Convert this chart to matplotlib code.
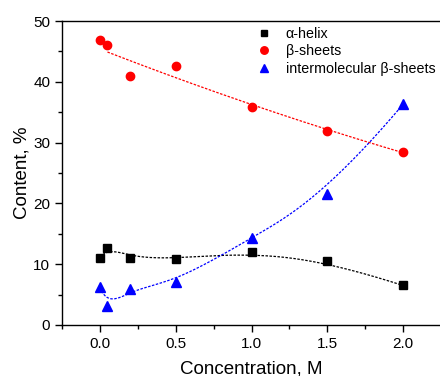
import matplotlib
matplotlib.use("Agg")
import matplotlib.pyplot as plt
import numpy as np
from matplotlib.ticker import MultipleLocator

plt.rcParams['font.family'] = ['Liberation Sans', 'DejaVu Sans']

conc = np.array([0.0, 0.05, 0.2, 0.5, 1.0, 1.5, 2.0])
helix = np.array([11.1, 12.7, 11.1, 10.9, 12.0, 10.5, 6.5])
sheets = np.array([46.8, 46.0, 41.0, 42.6, 35.8, 31.9, 28.5])
inter = np.array([6.2, 3.1, 5.9, 7.1, 14.3, 21.6, 36.3])


def bspline(x, y, k=3, num=300):
    # clamped B-spline with the data points as control points
    pts = np.column_stack([x, y])
    n = len(pts)
    knots = np.concatenate([np.zeros(k), np.linspace(0, 1, n - k + 1), np.ones(k)])
    t = np.linspace(0, 1, num)
    t[-1] -= 1e-9
    basis = np.array([((knots[i] <= t) & (t < knots[i + 1])).astype(float)
                      for i in range(len(knots) - 1)])
    for d in range(1, k + 1):
        new = []
        for i in range(len(knots) - 1 - d):
            a = knots[i + d] - knots[i]
            b = knots[i + d + 1] - knots[i + 1]
            term = np.zeros_like(t)
            if a > 0:
                term += (t - knots[i]) / a * basis[i]
            if b > 0:
                term += (knots[i + d + 1] - t) / b * basis[i + 1]
            new.append(term)
        basis = np.array(new)
    curve = basis.T @ pts
    return curve[:, 0], curve[:, 1]


fig = plt.figure(figsize=(4.4, 3.76), dpi=100)
ax = fig.add_axes([62 / 440, 1 - 325 / 376, 379 / 440, 304 / 376])

# fitted guide lines
dots = (0, (2, 1.2))
ax.plot(*bspline(conc, helix), color='black', lw=0.9, ls=dots)
xs = np.linspace(0.05, 2.0, 200)
ax.plot(xs, np.polyval(np.polyfit(conc[1:], sheets[1:], 2), xs),
        color='red', lw=0.9, ls=dots)
ax.plot(*bspline(conc, inter), color='blue', lw=0.9, ls=dots)

ax.plot(conc, helix, 's', color='black', ms=5.3, ls='none', label='α-helix')
ax.plot(conc, sheets, 'o', color='red', ms=6, ls='none', label='β-sheets')
ax.plot(conc, inter, '^', color='blue', ms=6.8, ls='none', label='intermolecular β-sheets')

ax.set_xlim(-0.25, 2.25)
ax.set_ylim(0, 50)
ax.xaxis.set_major_locator(MultipleLocator(0.5))
ax.xaxis.set_minor_locator(MultipleLocator(0.25))
ax.yaxis.set_major_locator(MultipleLocator(10))
ax.yaxis.set_minor_locator(MultipleLocator(5))
ax.tick_params(which='major', length=5, width=1, labelsize=11)
ax.tick_params(which='minor', length=3, width=1)
for s in ax.spines.values():
    s.set_linewidth(1)

ax.set_xlabel('Concentration, M', fontsize=13.5, labelpad=7)
ax.set_ylabel('Content, %', fontsize=13.5, labelpad=2)

ax.legend(loc='upper right', frameon=False, fontsize=10.3, handletextpad=0.9,
          borderaxespad=0.0, labelspacing=0.25, handlelength=1.2,
          markerscale=0.9, bbox_to_anchor=(1.0, 1.0))

fig.savefig('out.png', dpi=100)
